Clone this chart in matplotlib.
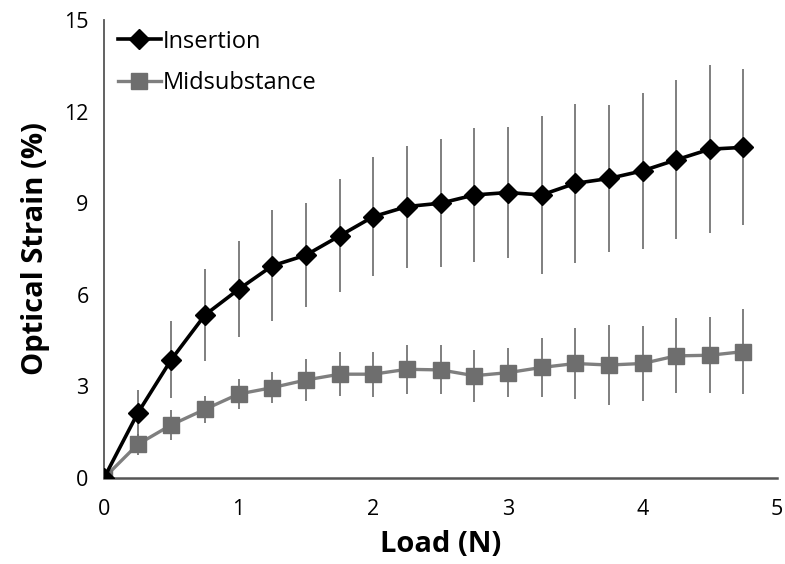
import matplotlib
matplotlib.use('Agg')
import matplotlib.pyplot as plt
import numpy as np

plt.rcParams['font.family'] = ['Open Sans', 'DejaVu Sans']

# 数据
load = [0, 0.25, 0.5, 0.75, 1.0, 1.25, 1.5, 1.75, 2.0, 2.25, 2.5,
        2.75, 3.0, 3.25, 3.5, 3.75, 4.0, 4.25, 4.5, 4.75]
insertion = [0, 2.12, 3.88, 5.34, 6.18, 6.95, 7.3, 7.93, 8.56, 8.89, 9.0,
             9.27, 9.35, 9.27, 9.65, 9.81, 10.06, 10.42, 10.77, 10.83]
insertion_err = [0, 0.75, 1.25, 1.5, 1.57, 1.82, 1.71, 1.85, 1.95, 2.0, 2.1,
                 2.2, 2.15, 2.6, 2.6, 2.4, 2.55, 2.6, 2.75, 2.55]
midsub = [0, 1.1, 1.74, 2.25, 2.75, 2.96, 3.21, 3.4, 3.4, 3.56, 3.54,
          3.35, 3.45, 3.62, 3.75, 3.7, 3.75, 4.0, 4.02, 4.14]
midsub_err = [0, 0.35, 0.5, 0.45, 0.5, 0.5, 0.7, 0.72, 0.74, 0.8, 0.8,
              0.85, 0.8, 0.98, 1.17, 1.32, 1.23, 1.23, 1.25, 1.4]

fig = plt.figure(figsize=(7.85, 5.64), dpi=100)
ax = fig.add_axes([0.1325, 0.1525, 0.8575, 0.812])

# 误差棒
ax.errorbar(load, insertion, yerr=insertion_err, fmt='none', ecolor='#6a6a6a',
            elinewidth=1.2, capsize=0, zorder=1)
ax.errorbar(load, midsub, yerr=midsub_err, fmt='none', ecolor='#6a6a6a',
            elinewidth=1.2, capsize=0, zorder=1)

ax.plot(load, insertion, color='black', lw=2.6, marker='D', markersize=10,
        label='Insertion', zorder=4)
ax.plot(load, midsub, color='#7f7f7f', lw=2.4, marker='s', markersize=11,
        markerfacecolor='#6e6e6e', markeredgecolor='#6e6e6e',
        label='Midsubstance', zorder=3)

ax.set_xlim(0, 5)
ax.set_ylim(0, 15)
ax.set_xticks([0, 1, 2, 3, 4, 5])
ax.set_yticks([0, 3, 6, 9, 12, 15])
ax.tick_params(length=0, labelsize=15.5)
ax.tick_params(axis='x', pad=15)
ax.tick_params(axis='y', pad=11)

for s in ['top', 'right']:
    ax.spines[s].set_visible(False)
ax.spines['left'].set_color('#555555')
ax.spines['left'].set_linewidth(1.3)
ax.spines['bottom'].set_color('#555555')
ax.spines['bottom'].set_linewidth(1.8)

ax.set_xlabel('Load (N)', fontsize=21, fontweight='bold', labelpad=7)
ax.set_ylabel('Optical Strain (%)', fontsize=21, fontweight='bold', labelpad=10)

ax.legend(loc='upper left', frameon=False, fontsize=17, handlelength=1.8,
          handletextpad=0.1, borderaxespad=0.2, labelspacing=0.75,
          bbox_to_anchor=(0.0, 1.01))

plt.savefig('out.png', dpi=100)
